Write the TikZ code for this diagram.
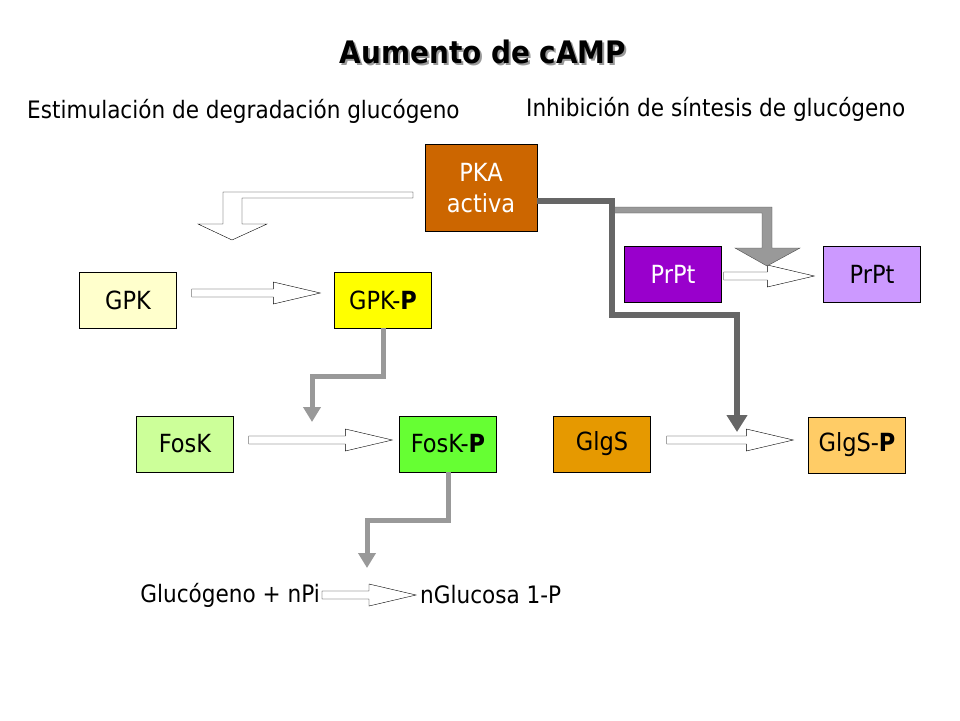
\documentclass[tikz,border=0pt]{standalone}
\usepackage{fontspec}
\setmainfont{DejaVu Sans Condensed}
\usetikzlibrary{calc,arrows.meta}
\definecolor{pkac}{HTML}{CC6600}
\definecolor{prpta}{HTML}{9900CC}
\definecolor{prptb}{HTML}{CC99FF}
\definecolor{gpkc}{HTML}{FFFFCC}
\definecolor{gpkpc}{HTML}{FFFF00}
\definecolor{foskc}{HTML}{CCFF99}
\definecolor{foskpc}{HTML}{66FF33}
\definecolor{glgsc}{HTML}{E69900}
\definecolor{glgspc}{HTML}{FFCC66}
\newcommand{\hollowarrow}[3]{% from, to, y
  \draw[hollow] let \p1=(#1), \p2=(#2) in
    (\x1,#3-4) -- (\x2-47,#3-4) -- (\x2-47,#3-11) -- (\x2,#3)
    -- (\x2-47,#3+11) -- (\x2-47,#3+4) -- (\x1,#3+4) -- cycle;}
\begin{document}
\begin{tikzpicture}[x=1pt,y=-1pt,
  box/.style = {draw, thin, minimum width=97pt, minimum height=56pt, inner sep=0pt, font=\fontsize{25}{31}\selectfont},
  txt/.style = {font=\fontsize{24}{29}\selectfont, inner sep=0pt},
  hollow/.style = {draw, thin, fill=white},
  lgray/.style = {draw=black!40, line width=5pt, -{Triangle[width=17pt,length=15pt]}},
  dgray/.style = {draw=black!60, line width=6pt, -{Triangle[width=20pt,length=17pt]}}]
\useasboundingbox (0,0) rectangle (960,720);
\node[font=\fontsize{31}{36}\selectfont\bfseries, text=black!40] at (485,54) {Aumento de cAMP};
\node[font=\fontsize{31}{36}\selectfont\bfseries] (title) at (483,52) {Aumento de cAMP};
\node[txt, anchor=west] (left) at (27,111) {Estimulación de degradación glucógeno};
\node[txt, anchor=west] (right) at (526,109) {Inhibición de síntesis de glucógeno};
% boxes
\node[box, fill=pkac, text=white, minimum width=112pt, minimum height=87pt, align=center] (pka) at (481,188) {PKA\\ activa};
\node[box, fill=prpta, text=white] (prpt1) at (673,274) {PrPt};
\node[box, fill=prptb] (prpt2) at (872,274) {PrPt};
\node[box, fill=gpkc] (gpk) at (128,300) {GPK};
\node[box, fill=gpkpc] (gpkp) at (383,300) {GPK-\textbf{P}};
\node[box, fill=foskc] (fosk) at (185,444) {FosK};
\node[box, fill=foskpc] (foskp) at (448,444) {FosK-\textbf{P}};
\node[box, fill=glgsc] (glgs) at (602,444) {GlgS};
\node[box, fill=glgspc] (glgsp) at (857,445) {GlgS-\textbf{P}};
\node[txt, anchor=east] (glu) at (320,595) {Glucógeno + nPi};
\node[txt, anchor=west] (nglu) at (420,595) {nGlucosa 1-P};
% hollow arrows
\coordinate (a1) at ($(gpk.east)+(15,0)$);
\coordinate (a2) at ($(gpkp.west)+(-14,0)$);
\hollowarrow{a1}{a2}{293}
\coordinate (b1) at ($(fosk.east)+(15,0)$);
\coordinate (b2) at ($(foskp.west)+(-7,0)$);
\hollowarrow{b1}{b2}{440}
\coordinate (c1) at ($(glgs.east)+(16,0)$);
\coordinate (c2) at ($(glgsp.west)+(-15,0)$);
\hollowarrow{c1}{c2}{440}
\coordinate (d1) at ($(prpt1.east)+(2,0)$);
\coordinate (d2) at ($(prpt2.west)+(-9,0)$);
\hollowarrow{d1}{d2}{276}
\coordinate (e1) at ($(glu.east)+(2,0)$);
\coordinate (e2) at ($(nglu.west)+(-4,0)$);
\hollowarrow{e1}{e2}{595}
\draw[hollow] (413,192) -- (223,192) -- (223,224) -- (198,224) -- (232,240)
  -- (267,224) -- (242,224) -- (242,198) -- (413,198) -- cycle;
% gray arrows
\draw[lgray] (gpkp.south) -- ++(0,48) -| (312,422);
\draw[lgray] (foskp.south) -- ++(0,48) -| (367,568);
\draw[draw=black!70, fill=black!40, thin] (613,207) -- (772,207) -- (772,248) -- (800,248)
  -- (767,266) -- (735,248) -- (762,248) -- (762,213) -- (613,213) -- cycle;
\draw[dgray] (pka.east) ++(0,13) -- (612,201) |- (737,315) -- (737,432);
\end{tikzpicture}
\end{document}
